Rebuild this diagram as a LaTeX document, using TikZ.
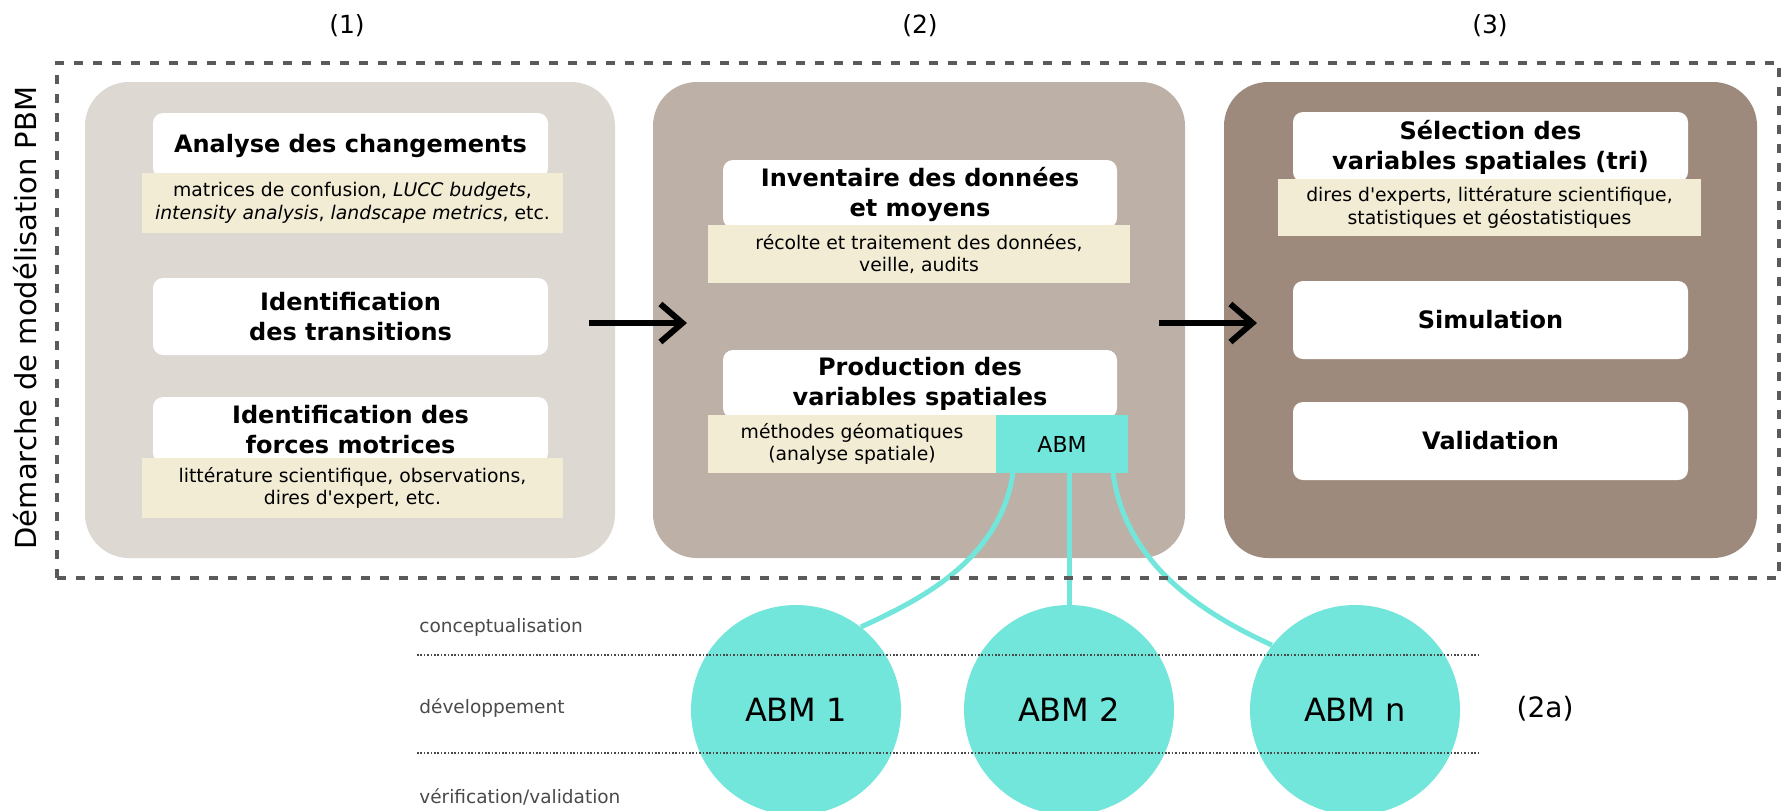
\documentclass[tikz,border=0pt]{standalone}
\usepackage{fontspec}
\setmainfont[Ligatures=TeXOff]{DejaVu Sans}
\usetikzlibrary{arrows.meta}
\definecolor{boxa}{HTML}{DDD8D2}
\definecolor{boxb}{HTML}{BDB0A7}
\definecolor{boxc}{HTML}{9E8A7D}
\definecolor{cream}{HTML}{F2ECD5}
\definecolor{cyanabm}{HTML}{72E6DA}
\definecolor{framecol}{HTML}{5A5A5A}
\definecolor{lblcol}{HTML}{4A4A4A}
\begin{document}
\begin{tikzpicture}[x=0.5pt,y=-0.5pt,
  big/.style={rounded corners=22pt, inner sep=0pt, outer sep=0pt, minimum height=238pt},
  wbox/.style={fill=white, rounded corners=5pt, inner sep=0pt, outer sep=0pt, minimum width=197.5pt, align=center, font=\fontsize{12}{15}\selectfont\bfseries},
  ybox/.style={fill=cream, inner sep=0pt, outer sep=0pt, align=center, font=\fontsize{9.4}{11.3}\selectfont},
  flow/.style={line width=3pt, -{Straight Barb[length=11pt,width=19pt]}},
  link/.style={draw=cyanabm, line width=2.5pt},
  abmc/.style={circle, fill=cyanabm, minimum size=105pt, inner sep=0pt, font=\fontsize{16}{19}\selectfont},
  phase/.style={draw=lblcol, line width=1.2pt, dash pattern=on 0.8pt off 0.9pt},
  plabel/.style={anchor=west, inner sep=0pt, text=lblcol, font=\fontsize{9.25}{11}\selectfont},
  num/.style={font=\fontsize{12.5}{15}\selectfont}
]
\useasboundingbox (0,0) rectangle (1786,810);
\clip (0,0) rectangle (1786,810);
\fill[white] (0,0) rectangle (1786,810);

% titles
\node[num] (t1) at (347,26) {(1)};
\node[num] (t2) at (920,26) {(2)};
\node[num] (t3) at (1490,26) {(3)};
\node[rotate=90, font=\fontsize{14.5}{17}\selectfont] (vlab) at (25,318) {Démarche de modélisation PBM};

% big boxes
\node[big, fill=boxa, minimum width=265pt] (box1) at (350,320) {};
\node[big, fill=boxb, minimum width=266pt] (box2) at (919,320) {};
\node[big, fill=boxc, minimum width=266.5pt] (box3) at (1490.5,320) {};

% box 1
\node[wbox, minimum height=32.5pt] (wA) at (350.5,145.5) {Analyse des changements};
\node[ybox, minimum width=210.5pt, minimum height=30pt] (yA) at (352.5,203) {matrices de confusion, \textit{LUCC budgets},\\\textit{intensity analysis}, \textit{landscape metrics}, etc.};
\node[wbox, minimum height=38.5pt] (wB) at (350.5,316.5) {Identification\\des transitions};
\node[wbox, minimum height=33pt] (wC) at (350.5,430) {Identification des\\forces motrices};
\node[ybox, minimum width=210.5pt, minimum height=30pt] (yC) at (352.5,488) {littérature scientifique, observations,\\dires d'expert, etc.};

% box 2
\node[wbox, minimum width=197pt, minimum height=34pt] (wD) at (920,194) {Inventaire des données\\et moyens};
\node[ybox, minimum width=211pt, minimum height=29pt] (yD) at (919,254) {récolte et traitement des données,\\veille, audits};
\node[wbox, minimum width=197pt, minimum height=34pt] (wE) at (920,384) {Production des\\variables spatiales};
\node[ybox, minimum width=144pt, minimum height=29pt] (yE) at (852,444) {méthodes géomatiques\\(analyse spatiale)};
\node[fill=cyanabm, inner sep=0pt, outer sep=0pt, minimum width=66pt, minimum height=29pt, font=\fontsize{11}{13}\selectfont] (abm) at (1062,444) {ABM};

% box 3
\node[wbox, minimum height=35pt] (wF) at (1490.5,147) {Sélection des\\variables spatiales (tri)};
\node[ybox, minimum width=211.5pt, minimum height=28.5pt] (yF) at (1489.5,207.5) {dires d'experts, littérature scientifique,\\statistiques et géostatistiques};
\node[wbox, minimum height=39pt] (wG) at (1490.5,320) {Simulation};
\node[wbox, minimum height=39pt] (wH) at (1490.5,441) {Validation};

% flow arrows
\coordinate (a1s) at (589,323);
\coordinate (a1e) at (687,323);
\coordinate (a2s) at (1159,323);
\coordinate (a2e) at (1257,323);
\draw[flow] (a1s) -- (a1e);
\draw[flow] (a2s) -- (a2e);

% ABM circles
\node[abmc] (m1) at (796,710) {ABM 1};
\node[abmc] (m2) at (1069,710) {ABM 2};
\node[abmc] (mn) at (1355,710) {ABM n};

% links
\coordinate (l1) at (1013,473);
\coordinate (l2) at (1069,473);
\coordinate (l3) at (1113,473);
\draw[link] (l1) .. controls (1000,560) and (920,600) .. (m1.52);
\draw[link] (l2) -- (m2.north);
\draw[link] (l3) .. controls (1125,560) and (1195,610) .. (mn.142.5);

% phase lines
\coordinate (p1s) at (417,655);
\coordinate (p1e) at (1478,655);
\coordinate (p2s) at (417,753);
\coordinate (p2e) at (1478,753);
\draw[phase] (p1s) -- (p1e);
\draw[phase] (p2s) -- (p2e);
\node[plabel] (c1) at (419,627) {conceptualisation};
\node[plabel] (c2) at (419,708) {développement};
\node[plabel] (c3) at (419,797) {vérification/validation};
\node[font=\fontsize{14}{17}\selectfont] (t2a) at (1545,709) {(2a)};

% frame
\node[draw=framecol, line width=2pt, dash pattern=on 4.5pt off 5pt, inner sep=0pt, minimum width=861pt, minimum height=257.5pt] (frame) at (918,320.5) {};
\end{tikzpicture}
\end{document}
